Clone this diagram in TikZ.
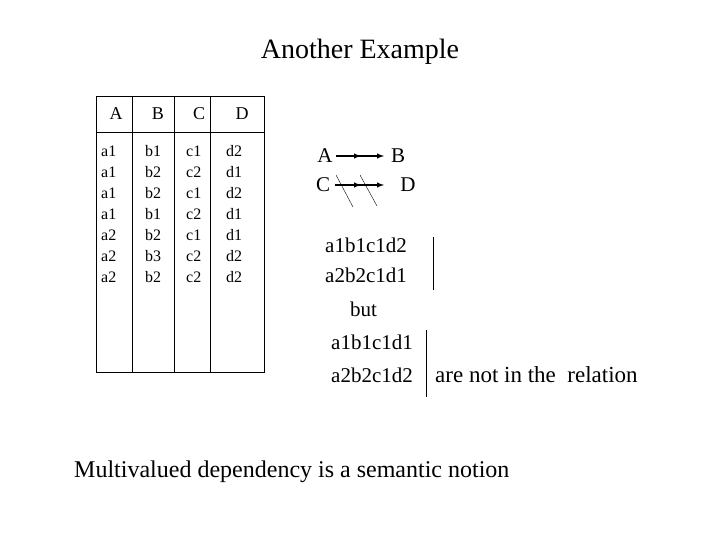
\documentclass[tikz,border=0pt]{standalone}
\usepackage{fontspec}
\setmainfont{Liberation Serif}
\begin{document}
\begin{tikzpicture}[x=1pt,y=-1pt,
  cell/.style={font=\fontsize{16}{16}\selectfont,inner sep=0pt,anchor=base west},
  hd/.style={font=\fontsize{18}{18}\selectfont,inner sep=0pt},
  big/.style={font=\fontsize{21}{21}\selectfont,inner sep=0pt,anchor=base west},
  tk/.style={line width=1.4pt}]
\useasboundingbox (0,0) rectangle (720,540);
\node[font=\fontsize{28}{28}\selectfont,inner sep=0pt] (title) at (360,52) {Another Example};
% table
\draw (96,96) rectangle (264,372);
\draw (96,132) -- (264,132);
\foreach \x in {132,174,210} \draw (\x,96) -- (\x,372);
\node[hd] (hA) at (116,114) {A};
\node[hd] (hB) at (158,114) {B};
\node[hd] (hC) at (199,114) {C};
\node[hd] (hD) at (242,114) {D};
\foreach \a/\b/\c/\d [count=\i] in {a1/b1/c1/d2,a1/b2/c2/d1,a1/b2/c1/d2,a1/b1/c2/d1,a2/b2/c1/d1,a2/b3/c2/d2,a2/b2/c2/d2}{
  \pgfmathsetmacro\yy{157+(\i-1)*20.9}
  \node[cell] at (101,\yy) {\a};
  \node[cell] at (145,\yy) {\b};
  \node[cell] at (186,\yy) {\c};
  \node[cell] at (226,\yy) {\d};
}
% dependencies
\node[big,anchor=center] (A) at (325,156) {A};
\node[big,anchor=center] (B) at (398,156) {B};
\node[big,anchor=center] (C) at (323,185) {C};
\node[big,anchor=center] (D) at (408,185) {D};
\coordinate (Ae) at (336,156);
\coordinate (Be) at (384,156);
\draw[tk,-latex] (Ae) -- (Be);
\draw[tk,-latex] (Ae) -- (361,156);
\coordinate (Ce) at (335,185);
\coordinate (De) at (384,185);
\draw[tk,-latex] (Ce) -- (De);
\draw[tk,-latex] (Ce) -- (361,185);
\draw (336,175) -- (353,207);
\draw (360,175) -- (377,206);
% tuples
\node[big] (t1) at (325,252) {a1b1c1d2};
\node[big] (t2) at (325,282) {a2b2c1d1};
\node[big] (but) at (350,316) {but};
\node[big] (t3) at (331,349) {a1b1c1d1};
\node[big] (t4) at (331,382) {a2b2c1d2};
\node[big,font=\fontsize{23}{23}\selectfont] (rel) at (435,382) {are not in the\ \ relation};
\draw (433,237) -- (433,290);
\draw (426,330) -- (426,397);
\node[font=\fontsize{24}{24}\selectfont,inner sep=0pt,anchor=base west] (note) at (74,477) {Multivalued dependency is a semantic notion};
\end{tikzpicture}
\end{document}
